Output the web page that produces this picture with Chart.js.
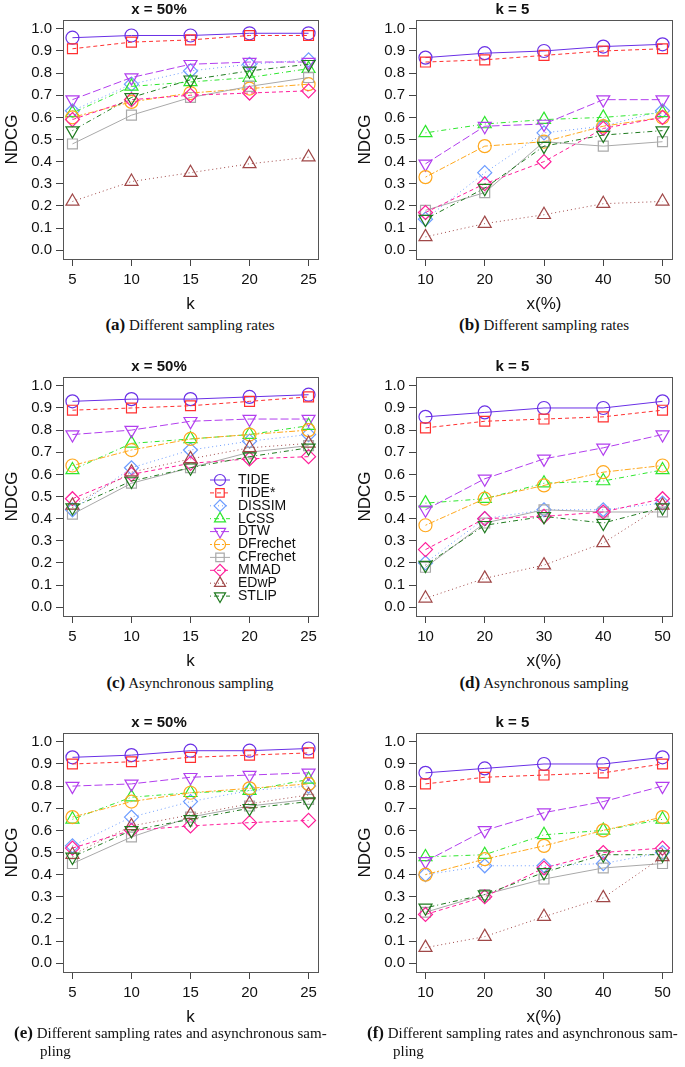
<!DOCTYPE html>
<html><head><meta charset="utf-8">
<script src="https://cdn.jsdelivr.net/npm/chart.js@4.4.1/dist/chart.umd.min.js"></script>
<style>
html,body{margin:0;padding:0;background:#fff;}
body{width:685px;height:1067px;position:relative;overflow:hidden;}
canvas.pc{position:absolute;}
.cap{position:absolute;font-family:"Liberation Serif","Times New Roman",serif;font-size:15px;color:#111;white-space:nowrap;line-height:18px;}
.cap b{font-size:17px;}
.ctr{transform:translateX(-50%);}
</style></head><body>
<canvas class="pc" id="pa" width="340" height="315" style="left:0px;top:0px"></canvas>
<canvas class="pc" id="pb" width="332" height="315" style="left:353px;top:0px"></canvas>
<canvas class="pc" id="pcc" width="340" height="315" style="left:0px;top:357px"></canvas>
<canvas class="pc" id="pd" width="332" height="315" style="left:353px;top:357px"></canvas>
<canvas class="pc" id="pe" width="340" height="315" style="left:0px;top:713px"></canvas>
<canvas class="pc" id="pf" width="332" height="315" style="left:353px;top:713px"></canvas>
<div class="cap ctr" style="left:190px;top:316px"><b>(a)</b> Different sampling rates</div>
<div class="cap ctr" style="left:544px;top:316px"><b>(b)</b> Different sampling rates</div>
<div class="cap ctr" style="left:190px;top:674px"><b>(c)</b> Asynchronous sampling</div>
<div class="cap ctr" style="left:544px;top:674px"><b>(d)</b> Asynchronous sampling</div>
<div class="cap" style="left:14px;top:1024px"><b>(e)</b> Different sampling rates and asynchronous sam-<br><span style="padding-left:26px">pling</span></div>
<div class="cap" style="left:367px;top:1024px"><b>(f)</b> Different sampling rates and asynchronous sam-<br><span style="padding-left:26px">pling</span></div>
<script>
// ---------- data ----------
const seriesNames = ['TIDE','TIDE*','DISSIM','LCSS','DTW','DFrechet','CFrechet','MMAD','EDwP','STLIP'];
const kValues = [5, 10, 15, 20, 25];
const xPercentValues = [10, 20, 30, 40, 50];
const yTickValues = [0.0, 0.1, 0.2, 0.3, 0.4, 0.5, 0.6, 0.7, 0.8, 0.9, 1.0];

// (a) Different sampling rates, x = 50%, varying k (rows follow seriesNames)
const panelA = [
  [0.96, 0.97, 0.97, 0.98, 0.98],
  [0.91, 0.94, 0.95, 0.97, 0.97],
  [0.63, 0.75, 0.81, 0.84, 0.86],
  [0.62, 0.74, 0.76, 0.78, 0.82],
  [0.68, 0.78, 0.84, 0.85, 0.85],
  [0.60, 0.67, 0.71, 0.73, 0.75],
  [0.48, 0.61, 0.69, 0.74, 0.78],
  [0.59, 0.68, 0.70, 0.71, 0.72],
  [0.22, 0.31, 0.35, 0.39, 0.42],
  [0.54, 0.69, 0.77, 0.81, 0.84]
];
// (b) Different sampling rates, k = 5, varying x(%)
const panelB = [
  [0.87, 0.89, 0.90, 0.92, 0.93],
  [0.85, 0.86, 0.88, 0.90, 0.91],
  [0.14, 0.35, 0.53, 0.56, 0.63],
  [0.53, 0.57, 0.59, 0.60, 0.62],
  [0.39, 0.56, 0.57, 0.68, 0.68],
  [0.33, 0.47, 0.49, 0.56, 0.60],
  [0.18, 0.26, 0.49, 0.47, 0.49],
  [0.17, 0.30, 0.40, 0.55, 0.60],
  [0.06, 0.12, 0.16, 0.21, 0.22],
  [0.14, 0.28, 0.47, 0.52, 0.54]
];
// (c) Asynchronous sampling, x = 50%, varying k
const panelC = [
  [0.93, 0.94, 0.94, 0.95, 0.96],
  [0.89, 0.90, 0.91, 0.93, 0.95],
  [0.44, 0.63, 0.71, 0.75, 0.78],
  [0.62, 0.74, 0.76, 0.78, 0.82],
  [0.78, 0.80, 0.84, 0.85, 0.85],
  [0.64, 0.71, 0.76, 0.78, 0.80],
  [0.42, 0.56, 0.63, 0.70, 0.73],
  [0.49, 0.60, 0.65, 0.67, 0.68],
  [0.46, 0.61, 0.67, 0.72, 0.74],
  [0.45, 0.57, 0.63, 0.68, 0.72]
];
// (d) Asynchronous sampling, k = 5, varying x(%)
const panelD = [
  [0.86, 0.88, 0.90, 0.90, 0.93],
  [0.81, 0.84, 0.85, 0.86, 0.89],
  [0.20, 0.40, 0.44, 0.44, 0.47],
  [0.47, 0.49, 0.56, 0.57, 0.62],
  [0.44, 0.58, 0.67, 0.72, 0.78],
  [0.37, 0.49, 0.55, 0.61, 0.64],
  [0.18, 0.38, 0.44, 0.43, 0.43],
  [0.26, 0.40, 0.41, 0.43, 0.49],
  [0.04, 0.13, 0.19, 0.29, 0.46],
  [0.19, 0.37, 0.41, 0.38, 0.45]
];
// (e) Different sampling rates and asynchronous sampling, x = 50%, varying k
const panelE = [
  [0.93, 0.94, 0.96, 0.96, 0.97],
  [0.90, 0.91, 0.93, 0.94, 0.95],
  [0.53, 0.66, 0.73, 0.78, 0.80],
  [0.65, 0.75, 0.77, 0.78, 0.83],
  [0.80, 0.81, 0.84, 0.85, 0.86],
  [0.66, 0.73, 0.77, 0.79, 0.81],
  [0.45, 0.57, 0.66, 0.71, 0.74],
  [0.52, 0.60, 0.62, 0.635, 0.645],
  [0.49, 0.62, 0.67, 0.72, 0.76],
  [0.48, 0.60, 0.65, 0.70, 0.73]
];
// (f) Different sampling rates and asynchronous sampling, k = 5, varying x(%)
const panelF = [
  [0.86, 0.88, 0.90, 0.90, 0.93],
  [0.81, 0.84, 0.85, 0.86, 0.90],
  [0.40, 0.44, 0.44, 0.45, 0.50],
  [0.48, 0.49, 0.58, 0.60, 0.65],
  [0.46, 0.60, 0.68, 0.73, 0.80],
  [0.40, 0.47, 0.53, 0.60, 0.66],
  [0.23, 0.31, 0.38, 0.43, 0.45],
  [0.22, 0.30, 0.43, 0.50, 0.52],
  [0.07, 0.12, 0.21, 0.295, 0.48],
  [0.25, 0.31, 0.41, 0.49, 0.49]
];

// ---------- styles ----------
const seriesColors = ['#6A30E6','#FF3030','#6C9CFF','#2EE62E','#B23EEE','#FFA81E','#A9A9A9','#FF1E9A','#A04848','#1F7A1F'];
const seriesDash = [[], [4,3], [1,3], [1,3,5,3], [8,3], [2,2,6,2], [], [4,3], [1,3], [1,3,5,3]];
const seriesShapes = ['circle','rect','rectRot','triangle','triangle','circle','rect','rectRot','triangle','triangle'];
const seriesRot = [0,0,0,0,180,0,0,0,0,180];
const seriesRadius = [6.5,7,7,7.5,7.5,6.5,7,7,7.5,7.5];
const FONT = '"Liberation Sans", Arial, Helvetica, sans-serif';

Chart.defaults.font.family = FONT;
Chart.defaults.color = '#111';

const boxPlugin = {
  id: 'rbox',
  afterDraw(chart) {
    const {ctx, chartArea: a} = chart;
    ctx.save();
    ctx.strokeStyle = '#555';
    ctx.lineWidth = 1;
    ctx.strokeRect(Math.round(a.left) + 0.5, Math.round(a.top) + 0.5, Math.round(a.right - a.left), Math.round(a.bottom - a.top));
    ctx.restore();
  }
};

function drawMarker(ctx, shape, rot, r, x, y) {
  if (Chart.helpers && Chart.helpers.drawPoint) {
    Chart.helpers.drawPoint(ctx, {pointStyle: shape, rotation: rot, radius: r, borderWidth: ctx.lineWidth}, x, y);
  }
}

const legendPlugin = {
  id: 'rlegend',
  afterDraw(chart, args, opts) {
    if (!opts || !opts.show) return;
    const {ctx, chartArea: a} = chart;
    const x0 = a.left + opts.dx, y0 = a.top + opts.dy;
    ctx.save();
    ctx.font = '14px ' + FONT;
    ctx.textBaseline = 'middle';
    ctx.textAlign = 'left';
    seriesNames.forEach((name, i) => {
      const y = y0 + i * opts.rowH;
      ctx.strokeStyle = seriesColors[i];
      ctx.lineWidth = 1;
      ctx.setLineDash(seriesDash[i]);
      ctx.beginPath(); ctx.moveTo(x0, y); ctx.lineTo(x0 + opts.lineW, y); ctx.stroke();
      ctx.setLineDash([]);
      ctx.lineWidth = 1.2;
      ctx.fillStyle = 'rgba(0,0,0,0)';
      drawMarker(ctx, seriesShapes[i], seriesRot[i], seriesRadius[i] * 0.85, x0 + opts.lineW / 2, y);
      ctx.fillStyle = '#111';
      ctx.fillText(name, x0 + opts.lineW + opts.gap, y);
    });
    ctx.restore();
  }
};

function makePanel(id, values, xVals, xTitle, title, rightPad, showLegend) {
  const span = xVals[xVals.length - 1] - xVals[0];
  const datasets = seriesNames.map((name, i) => ({
    label: name,
    data: xVals.map((x, j) => ({x: x, y: values[i][j]})),
    borderColor: seriesColors[i],
    backgroundColor: 'rgba(0,0,0,0)',
    borderWidth: 1,
    borderDash: seriesDash[i],
    pointStyle: seriesShapes[i],
    pointRotation: seriesRot[i],
    pointRadius: seriesRadius[i],
    pointBorderWidth: 1.2,
    pointBorderColor: seriesColors[i],
    pointBackgroundColor: 'rgba(0,0,0,0)',
    fill: false,
    tension: 0,
    order: 10 - i
  }));
  new Chart(document.getElementById(id), {
    type: 'line',
    data: {datasets},
    plugins: [boxPlugin, legendPlugin],
    options: {
      responsive: false,
      animation: false,
      devicePixelRatio: 1,
      layout: {padding: {left: 0, right: rightPad, top: 0, bottom: 0}},
      plugins: {
        legend: {display: false},
        tooltip: {enabled: false},
        title: {display: true, text: title, color: '#111',
                font: {size: 15, weight: 'bold', family: FONT, lineHeight: 1},
                padding: {top: 2.5, bottom: 2.5}},
        rlegend: {show: showLegend, dx: 147, dy: 103, rowH: 12.9, lineW: 20, gap: 8}
      },
      scales: {
        x: {
          type: 'linear',
          min: xVals[0] - span * 0.04,
          max: xVals[xVals.length - 1] + span * 0.04,
          afterBuildTicks: s => { s.ticks = xVals.map(v => ({value: v})); },
          afterFit: s => { s.height = 56; },
          ticks: {autoSkip: false, maxRotation: 0, padding: 5, color: '#111', font: {size: 15, family: FONT}},
          grid: {display: true, drawOnChartArea: false, drawTicks: true, tickLength: 7, color: '#444', tickColor: '#444'},
          border: {display: false},
          title: {display: true, text: xTitle, color: '#111', font: {size: 17, family: FONT, lineHeight: 1}, padding: {top: 0, bottom: 2.5}}
        },
        y: {
          type: 'linear',
          min: -0.04,
          max: 1.04,
          afterBuildTicks: s => { s.ticks = yTickValues.map(v => ({value: v})); },
          afterFit: s => { s.width = 63; },
          ticks: {autoSkip: false, padding: 4, color: '#111', font: {size: 15, family: FONT},
                  callback: v => Number(v).toFixed(1)},
          grid: {display: true, drawOnChartArea: false, drawTicks: true, tickLength: 7, color: '#444', tickColor: '#444'},
          border: {display: false},
          title: {display: true, text: 'NDCG', color: '#111', font: {size: 17, family: FONT, lineHeight: 1}, padding: {top: 4, bottom: 0}}
        }
      }
    }
  });
}

makePanel('pa', panelA, kValues, 'k', 'x = 50%', 22, false);
makePanel('pb', panelB, xPercentValues, 'x(%)', 'k = 5', 13, false);
makePanel('pcc', panelC, kValues, 'k', 'x = 50%', 22, true);
makePanel('pd', panelD, xPercentValues, 'x(%)', 'k = 5', 13, false);
makePanel('pe', panelE, kValues, 'k', 'x = 50%', 22, false);
makePanel('pf', panelF, xPercentValues, 'x(%)', 'k = 5', 13, false);
</script>
</body></html>
